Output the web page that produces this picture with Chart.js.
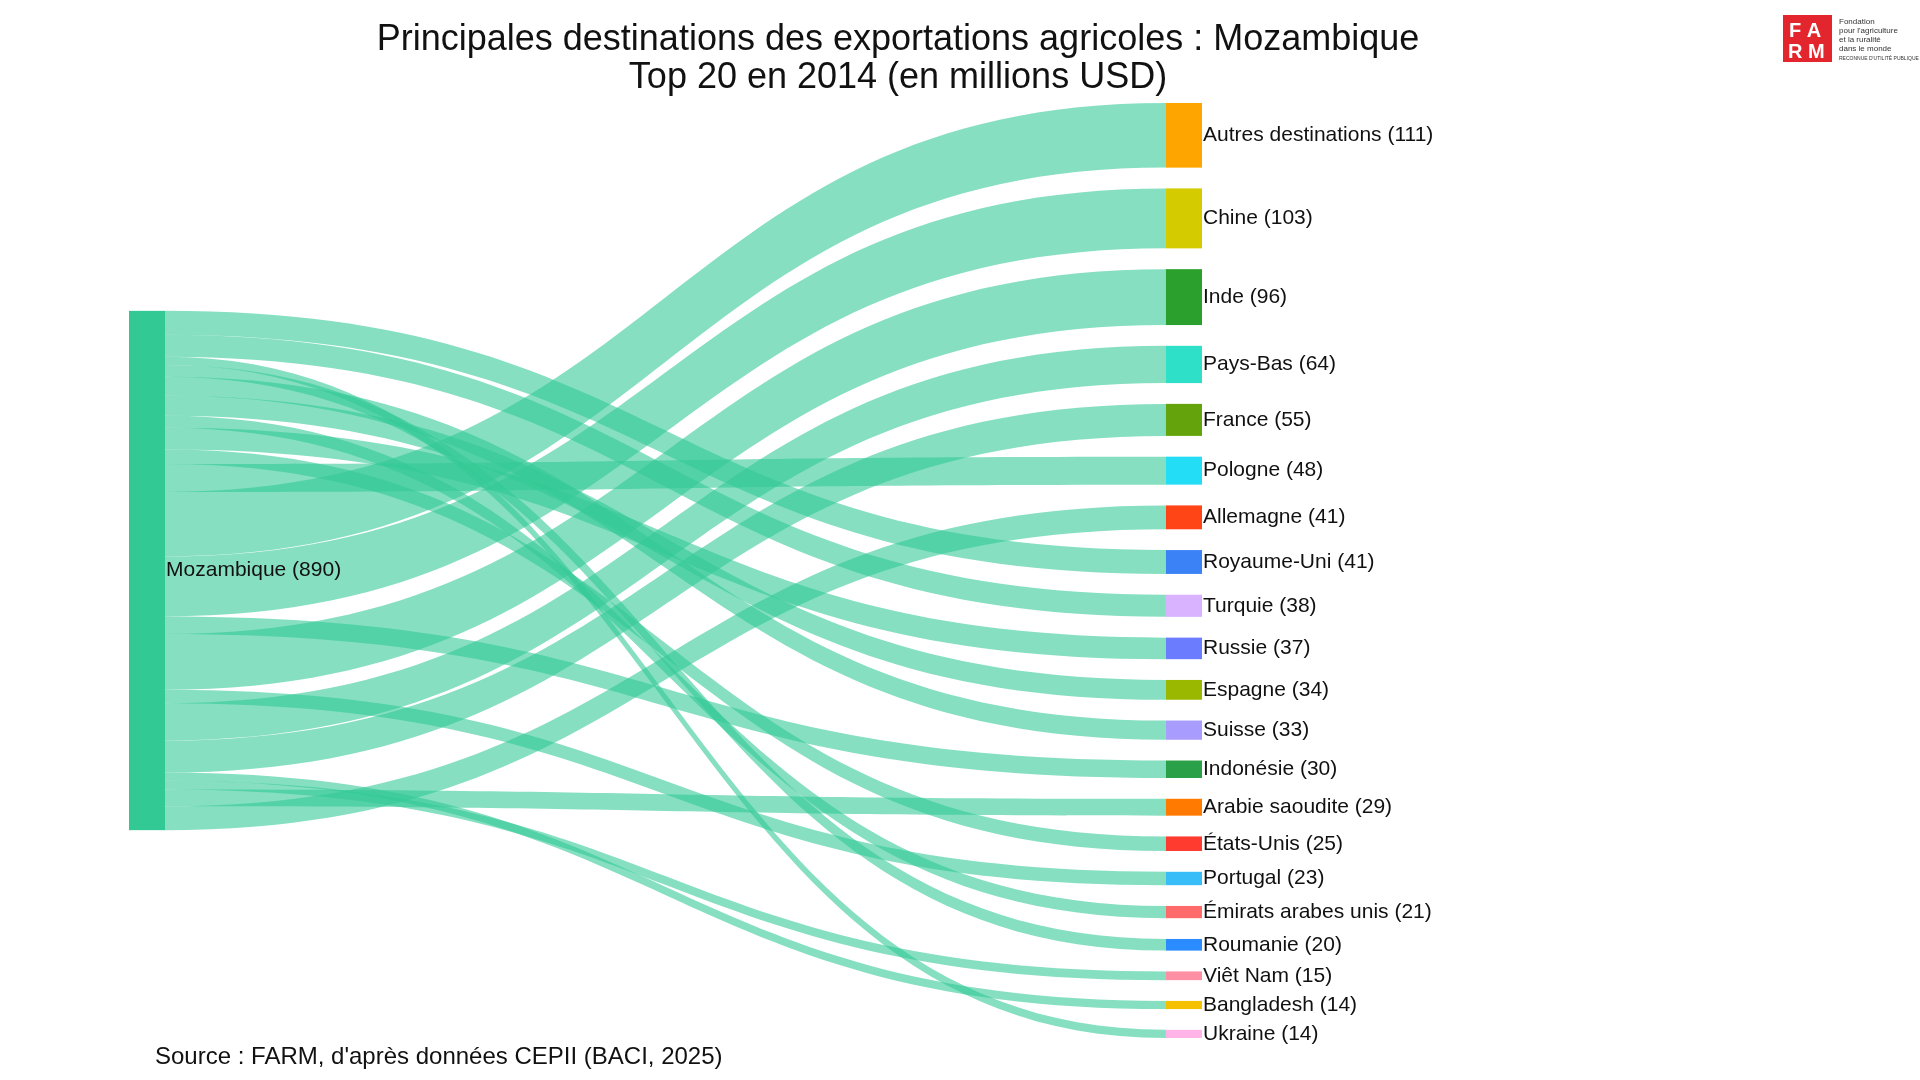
<!DOCTYPE html>
<html><head><meta charset="utf-8">
<script src="https://cdn.jsdelivr.net/npm/chart.js@4"></script>
<style>body{margin:0;background:#fff}#wrap{width:1920px;height:1080px;position:relative}</style>
</head><body><div id="wrap"><canvas id="c" width="1920" height="1080"></canvas></div>
<script>
const source = 'Mozambique';
const sourceTotal = 890;
const targets = ['Autres destinations','Chine','Inde','Pays-Bas','France','Pologne','Allemagne','Royaume-Uni','Turquie','Russie','Espagne','Suisse','Indonésie','Arabie saoudite','États-Unis','Portugal','Émirats arabes unis','Roumanie','Viêt Nam','Bangladesh','Ukraine'];
const values = [111,103,96,64,55,48,41,41,38,37,34,33,30,29,25,23,21,20,15,14,14];
const colors = ['#ffa500','#d4cc00','#2ca02c','#2ee0c8','#65a30d','#22ddf5','#ff4516','#3b82f6','#d9b3ff','#6b7cff','#9ab800','#a99cff','#2aa148','#ff7a00','#ff3b30','#38bdf8','#ff6b6b','#2b8cff','#ff8fa3','#f5c000','#ffb3e6'];
// order of links stacked on the source node, top to bottom
const linkOrder = ['Royaume-Uni','Turquie','Ukraine','Roumanie','Suisse','Espagne','Émirats arabes unis','Russie','États-Unis','Pologne','Autres destinations','Chine','Indonésie','Inde','Portugal','Pays-Bas','France','Bangladesh','Viêt Nam','Arabie saoudite','Allemagne'];
const gap = 35.7;

const total = values.reduce((a,b)=>a+b,0);
const span = total + gap*(targets.length-1);
const tgtPos = {};
let acc = 0;
targets.forEach((t,i)=>{ tgtPos[t] = [acc, acc+values[i]]; acc += values[i]+gap; });
const srcTop = (span-total)/2;

const sankey = {
  id:'sankey',
  afterDatasetsDraw(chart){
    const {ctx, scales:{x,y}} = chart;
    const xl0 = x.getPixelForValue(0), xl1 = x.getPixelForValue(0.0336);
    const xr0 = x.getPixelForValue(0.9664), xr1 = x.getPixelForValue(1);
    const mid = (xl1+xr0)/2;
    let s = srcTop;
    ctx.fillStyle = 'rgba(52,201,150,0.6)';
    linkOrder.forEach(t=>{
      const v = values[targets.indexOf(t)];
      const a0=y.getPixelForValue(s), a1=y.getPixelForValue(s+v);
      const b0=y.getPixelForValue(tgtPos[t][0]), b1=y.getPixelForValue(tgtPos[t][1]);
      ctx.beginPath();
      ctx.moveTo(xl1,a0);
      ctx.bezierCurveTo(mid,a0,mid,b0,xr0,b0);
      ctx.lineTo(xr0,b1);
      ctx.bezierCurveTo(mid,b1,mid,a1,xl1,a1);
      ctx.closePath(); ctx.fill();
      s += v;
    });
    ctx.fillStyle = '#33c995';
    const st=y.getPixelForValue(srcTop), sb=y.getPixelForValue(srcTop+total);
    ctx.fillRect(xl0,st,xl1-xl0,sb-st);
    ctx.font = '21px "Liberation Sans", Arial, sans-serif';
    ctx.textBaseline = 'middle';
    ctx.fillStyle = '#111';
    ctx.fillText(source+' ('+sourceTotal+')', xl1+1, (st+sb)/2);
    targets.forEach((t,i)=>{
      const p0=y.getPixelForValue(tgtPos[t][0]), p1=y.getPixelForValue(tgtPos[t][1]);
      ctx.fillStyle = colors[i];
      ctx.fillRect(xr0,p0,xr1-xr0,p1-p0);
      ctx.fillStyle = '#111';
      ctx.fillText(t+' ('+values[i]+')', xr1+1, (p0+p1)/2);
    });
    ctx.textAlign='center'; ctx.textBaseline='alphabetic';
    ctx.font = '36px "Liberation Sans", Arial, sans-serif';
    ctx.fillText('Principales destinations des exportations agricoles : Mozambique', 898, 50);
    ctx.fillText('Top 20 en 2014 (en millions USD)', 898, 88);
    ctx.textAlign='left';
    ctx.font = '24px "Liberation Sans", Arial, sans-serif';
    ctx.fillText("Source : FARM, d'après données CEPII (BACI, 2025)", 155, 1064);
    ctx.fillStyle='#e3262d'; ctx.fillRect(1783,15,49,47);
    ctx.fillStyle='#fff'; ctx.font='bold 20px "Liberation Sans", Arial, sans-serif';
    ctx.fillText('F A',1789,37); ctx.fillText('R M',1788,58);
    ctx.fillStyle='#333'; ctx.font='8px "Liberation Sans", Arial, sans-serif';
    ['Fondation','pour l\'agriculture','et la ruralité','dans le monde'].forEach((l,i)=>ctx.fillText(l,1839,24+i*9));
    ctx.font='5px "Liberation Sans", Arial, sans-serif';
    ctx.fillText('RECONNUE D\'UTILITÉ PUBLIQUE',1839,60);
  }
};

new Chart(document.getElementById('c'), {
  type:'scatter',
  data:{datasets:[{data:[]}]},
  options:{
    responsive:false, animation:false,
    layout:{padding:{left:129,right:718,top:103,bottom:42}},
    plugins:{legend:{display:false},tooltip:{enabled:false}},
    scales:{
      x:{type:'linear',min:0,max:1,display:false},
      y:{type:'linear',min:0,max:span,reverse:true,display:false}
    }
  },
  plugins:[sankey]
});
</script></body></html>
